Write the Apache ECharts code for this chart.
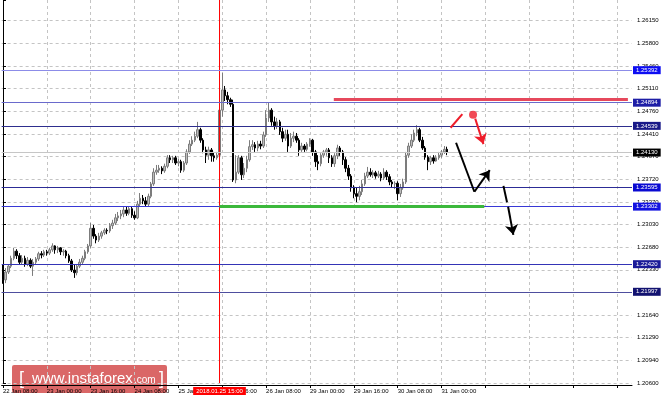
<!DOCTYPE html>
<html><head><meta charset="utf-8">
<script src="https://cdn.jsdelivr.net/npm/echarts@6/dist/echarts.min.js"></script>
<style>html,body{margin:0;padding:0;background:#fff}#c{width:664px;height:401px}</style>
</head><body><div id="c"></div>
<script>
// ---- data (H1 bars, 22 Jan 08:00 .. 31 Jan 02:00) ----
const opens = [1.2236,1.2218,1.2230,1.2239,1.2251,1.2262,1.2255,1.2245,1.2251,1.2242,
1.2248,1.2239,1.2245,1.2250,1.2258,1.2256,1.2261,1.2259,1.2264,1.2270,
1.2264,1.2267,1.2261,1.2262,1.2255,1.2247,1.2233,1.2229,1.2239,1.2245,
1.2251,1.2261,1.2270,1.2297,1.2285,1.2279,1.2285,1.2290,1.2294,1.2293,
1.2301,1.2305,1.2313,1.2316,1.2319,1.2325,1.2320,1.2327,1.2317,1.2313,
1.2334,1.2343,1.2339,1.2334,1.2346,1.2365,1.2383,1.2386,1.2389,1.2385,
1.2392,1.2405,1.2402,1.2405,1.2397,1.2399,1.2386,1.2397,1.2414,1.2426,
1.2432,1.2438,1.2448,1.2432,1.2417,1.2409,1.2417,1.2408,1.2405,1.2409,
1.2478,1.2509,1.2500,1.2494,1.2487,1.2371,1.2383,1.2405,1.2379,1.2389,
1.2402,1.2422,1.2425,1.2420,1.2426,1.2423,1.2440,1.2466,1.2478,1.2460,
1.2454,1.2460,1.2445,1.2435,1.2441,1.2423,1.2435,1.2438,1.2432,1.2417,
1.2423,1.2418,1.2426,1.2432,1.2414,1.2399,1.2396,1.2409,1.2414,1.2417,
1.2405,1.2396,1.2408,1.2420,1.2414,1.2402,1.2389,1.2377,1.2359,1.2350,
1.2346,1.2353,1.2365,1.2377,1.2383,1.2379,1.2382,1.2377,1.2380,1.2374,
1.2383,1.2376,1.2368,1.2365,1.2366,1.2350,1.2359,1.2368,1.2409,1.2423,
1.2432,1.2443,1.2448,1.2432,1.2420,1.2406,1.2399,1.2405,1.2400,1.2405,
1.2409,1.2414,1.2418];
const closes = [1.2218,1.2230,1.2239,1.2251,1.2262,1.2255,1.2245,1.2251,1.2242,1.2248,
1.2239,1.2245,1.2250,1.2258,1.2256,1.2261,1.2259,1.2264,1.2270,1.2264,
1.2267,1.2261,1.2262,1.2255,1.2247,1.2233,1.2229,1.2239,1.2245,1.2251,
1.2261,1.2270,1.2297,1.2285,1.2279,1.2285,1.2290,1.2294,1.2293,1.2301,
1.2305,1.2313,1.2316,1.2319,1.2325,1.2320,1.2327,1.2317,1.2313,1.2334,
1.2343,1.2339,1.2334,1.2346,1.2365,1.2383,1.2386,1.2389,1.2385,1.2392,
1.2405,1.2402,1.2405,1.2397,1.2399,1.2386,1.2397,1.2414,1.2426,1.2432,
1.2438,1.2448,1.2432,1.2417,1.2409,1.2417,1.2408,1.2405,1.2409,1.2478,
1.2509,1.2500,1.2494,1.2487,1.2371,1.2383,1.2405,1.2379,1.2389,1.2402,
1.2422,1.2425,1.2420,1.2426,1.2423,1.2440,1.2466,1.2478,1.2460,1.2454,
1.2460,1.2445,1.2435,1.2441,1.2423,1.2435,1.2438,1.2432,1.2417,1.2423,
1.2418,1.2426,1.2432,1.2414,1.2399,1.2396,1.2409,1.2414,1.2417,1.2405,
1.2396,1.2408,1.2420,1.2414,1.2402,1.2389,1.2377,1.2359,1.2350,1.2346,
1.2353,1.2365,1.2377,1.2383,1.2379,1.2382,1.2377,1.2380,1.2374,1.2383,
1.2376,1.2368,1.2365,1.2366,1.2350,1.2359,1.2368,1.2409,1.2423,1.2432,
1.2443,1.2448,1.2432,1.2420,1.2406,1.2399,1.2405,1.2400,1.2405,1.2409,
1.2414,1.2418,1.2413];
const lows = [1.2212,1.2213,1.2227,1.2236,1.2248,1.2250,1.2242,1.2241,1.2238,1.2239,
1.2236,1.2224,1.2242,1.2247,1.2251,1.2253,1.2255,1.2256,1.2261,1.2258,
1.2259,1.2256,1.2255,1.2251,1.2244,1.2230,1.2221,1.2225,1.2236,1.2242,
1.2248,1.2258,1.2267,1.2281,1.2274,1.2276,1.2281,1.2287,1.2288,1.2290,
1.2296,1.2302,1.2308,1.2311,1.2314,1.2316,1.2317,1.2313,1.2310,1.2311,
1.2331,1.2334,1.2330,1.2331,1.2343,1.2362,1.2379,1.2382,1.2380,1.2382,
1.2389,1.2397,1.2397,1.2394,1.2392,1.2382,1.2383,1.2394,1.2411,1.2423,
1.2429,1.2435,1.2428,1.2412,1.2397,1.2402,1.2399,1.2399,1.2402,1.2406,
1.2468,1.2492,1.2487,1.2483,1.2368,1.2366,1.2380,1.2371,1.2374,1.2383,
1.2399,1.2417,1.2414,1.2415,1.2418,1.2420,1.2437,1.2460,1.2454,1.2448,
1.2449,1.2440,1.2429,1.2431,1.2414,1.2420,1.2429,1.2428,1.2408,1.2414,
1.2414,1.2415,1.2422,1.2408,1.2391,1.2386,1.2392,1.2405,1.2408,1.2397,
1.2391,1.2391,1.2403,1.2408,1.2394,1.2383,1.2371,1.2353,1.2343,1.2337,
1.2340,1.2348,1.2362,1.2374,1.2376,1.2374,1.2373,1.2374,1.2369,1.2371,
1.2371,1.2363,1.2359,1.2357,1.2340,1.2345,1.2356,1.2365,1.2405,1.2420,
1.2429,1.2438,1.2429,1.2417,1.2402,1.2386,1.2394,1.2396,1.2399,1.2402,
1.2405,1.2411,1.2409];
const highs = [1.2241,1.2236,1.2242,1.2255,1.2267,1.2265,1.2259,1.2256,1.2255,1.2253,
1.2251,1.2250,1.2253,1.2261,1.2262,1.2264,1.2264,1.2267,1.2274,1.2271,
1.2270,1.2268,1.2265,1.2264,1.2258,1.2250,1.2242,1.2242,1.2250,1.2255,
1.2264,1.2273,1.2305,1.2302,1.2288,1.2290,1.2293,1.2297,1.2297,1.2305,
1.2310,1.2319,1.2322,1.2325,1.2330,1.2330,1.2331,1.2330,1.2323,1.2339,
1.2351,1.2348,1.2345,1.2350,1.2368,1.2389,1.2394,1.2394,1.2392,1.2396,
1.2409,1.2409,1.2408,1.2408,1.2403,1.2402,1.2400,1.2418,1.2432,1.2438,
1.2445,1.2460,1.2451,1.2435,1.2422,1.2422,1.2420,1.2414,1.2414,1.2483,
1.2535,1.2515,1.2506,1.2497,1.2494,1.2409,1.2409,1.2408,1.2397,1.2408,
1.2432,1.2432,1.2429,1.2431,1.2431,1.2445,1.2478,1.2490,1.2481,1.2468,
1.2466,1.2463,1.2451,1.2448,1.2448,1.2443,1.2445,1.2443,1.2435,1.2428,
1.2426,1.2429,1.2435,1.2434,1.2417,1.2409,1.2412,1.2417,1.2420,1.2420,
1.2409,1.2412,1.2425,1.2423,1.2417,1.2406,1.2394,1.2380,1.2363,1.2359,
1.2362,1.2371,1.2382,1.2391,1.2389,1.2386,1.2385,1.2385,1.2383,1.2389,
1.2386,1.2380,1.2371,1.2369,1.2369,1.2365,1.2373,1.2414,1.2428,1.2441,
1.2448,1.2455,1.2451,1.2437,1.2423,1.2409,1.2408,1.2409,1.2409,1.2414,
1.2417,1.2423,1.2422];

const slotCount = 230;   // hourly slots visible on the time axis
const priceMin = 1.206;
const priceMax = 1.26467;
const priceStep = 0.00346875;
const xTickLabels = ['22 Jan 08:00','23 Jan 00:00','23 Jan 16:00','24 Jan 08:00','25 Jan 00:00',
  '25 Jan 16:00','26 Jan 08:00','29 Jan 00:00','29 Jan 16:00','30 Jan 08:00','31 Jan 00:00'];
const yTickLabels = ['1.20600','1.20940','1.21290','1.21640','1.21980','1.22330','1.22680','1.23030',
  '1.23370','1.23720','1.24070','1.24410','1.24760','1.25110','1.25460','1.25800','1.26150'];
const levelValues = [1.25392, 1.24894, 1.24539, 1.24130, 1.23595, 1.23302, 1.22420, 1.21997];
const markerSlot = 79;            // 2018.01.25 15:00
const markerText = '2018.01.25 15:00';

// drawn annotations, in [bar slot, price]
const resistanceLine = [[120.7, 1.2495], [228.0, 1.2495]];
const supportLine = [[79.0, 1.2331], [175.6, 1.2331]];
const redStroke = [[163.3, 1.2451], [167.6, 1.2472]];
const redPoint = [171.5, 1.2471];
const redArrow = [[172.3, 1.2465], [175.3, 1.2426]];
const blackDrop = [[165.3, 1.2428], [172.0, 1.2353]];
const blackRise = [[172.0, 1.2353], [177.6, 1.2386]];
const blackDash = [[182.6, 1.2362], [183.9, 1.2337]];
const blackFall = [[184.3, 1.2330], [186.2, 1.2287]];

// ---- styles ----
const levelStyles = [
  {line:'#8c8ce8', bg:'#0d0df2'},
  {line:'#6a6acc', bg:'#1e1ea6'},
  {line:'#2e2e8e', bg:'#1a1a88'},
  {line:'#c6c6c6', bg:'#000000'},
  {line:'#2c2c96', bg:'#0a0ad2'},
  {line:'#3838d6', bg:'#1212e0'},
  {line:'#3434b6', bg:'#1a1a98'},
  {line:'#4e4e9e', bg:'#121270'}
];
const FONT = 'Liberation Sans, Arial, sans-serif';

const slots = Array.from({length: slotCount}, (_, i) => String(i));
const candles = opens.map((o, i) => [o, closes[i], lows[i], highs[i]]);
const xLo = -0.5, xHi = slotCount - 0.5;

function seg(pts, color, width, arrow, label) {
  const start = {coord: pts[0], symbol: 'none', lineStyle: {color: color, width: width, type: 'solid', opacity: 1}};
  if (label) start.label = label; else start.label = {show: false};
  return [start, {coord: pts[1], symbol: arrow ? 'arrow' : 'none', symbolSize: arrow ? 10 : 1}];
}

const levelSegs = levelValues.map((v, i) => seg([[xLo, v], [xHi, v]], levelStyles[i].line, 1, false, {
  show: true, position: 'end', distance: 1, formatter: v.toFixed(5),
  color: '#fff', backgroundColor: levelStyles[i].bg, padding: [1, 3, 1, 3],
  fontSize: 6, fontFamily: FONT
}));
// label of the time marker (its line itself is drawn by a line series below)
const markerSeg = seg([[markerSlot, priceMin], [markerSlot, priceMax]], 'rgba(255,0,0,0)', 1, false, {
  show: true, position: 'start', distance: 4, formatter: markerText,
  color: '#fff', backgroundColor: '#ff0000', padding: [1, 3, 1, 3],
  fontSize: 6, fontFamily: FONT
});

const chart = echarts.init(document.getElementById('c'), null, {renderer: 'canvas'});
chart.setOption({
  animation: false,
  backgroundColor: '#ffffff',
  grid: {left: 0, right: 32, top: 0, bottom: 18},
  xAxis: [{
    type: 'category', data: slots, boundaryGap: true, offset: 2,
    axisLine: {show: true, lineStyle: {color: '#000', width: 1}},
    axisTick: {show: true, interval: 15, alignWithLabel: true, length: 3, lineStyle: {color: '#000'}},
    axisLabel: {show: true, interval: 15, align: 'left', margin: 3, fontSize: 6, color: '#000',
      fontFamily: FONT, formatter: (v, i) => xTickLabels[i / 16] || ''},
    splitLine: {show: true, interval: 15, alignWithLabel: true,
      lineStyle: {color: '#c4c4c4', width: 1, type: [3, 3]}}
  }, {
    type: 'value', min: xLo, max: xHi, show: false
  }],
  yAxis: {
    type: 'value', position: 'right', min: priceMin, max: priceMax, interval: priceStep,
    axisLine: {show: true, lineStyle: {color: '#000', width: 1}},
    axisTick: {show: true, length: 3, lineStyle: {color: '#000'}},
    axisLabel: {margin: 5, fontSize: 6, color: '#000', fontFamily: FONT,
      formatter: (v, i) => yTickLabels[i] || ''},
    splitLine: {show: true, showMaxLine: false, lineStyle: {color: '#c4c4c4', width: 1, type: [3, 3]}}
  },
  series: [{
    type: 'candlestick',
    data: candles,
    barWidth: 2,
    itemStyle: {color: '#bdbdbd', color0: '#000000', borderColor: '#7c7c7c', borderColor0: '#000000', borderWidth: 1}
  }, {
    type: 'line',
    xAxisIndex: 1,
    data: [[markerSlot, priceMin], [markerSlot, priceMax]],
    symbol: 'none',
    silent: true,
    z: 4,
    lineStyle: {color: '#ff0000', width: 1, type: 'solid'}
  }, {
    type: 'scatter',
    xAxisIndex: 1,
    data: [redPoint],
    symbol: 'circle',
    symbolSize: 8,
    itemStyle: {color: '#ee1d2a'},
    silent: true,
    clip: false,
    z: 5,
    markLine: {
      silent: true, symbol: 'none', animation: false,
      data: levelSegs.concat([
        seg(resistanceLine, '#e6485c', 3, false),
        seg(supportLine, '#3cb83c', 3, false),
        seg(redStroke, '#ee1d2a', 2, false),
        seg(redArrow, '#ee1d2a', 2, true),
        seg(blackDrop, '#000000', 2, false),
        seg(blackRise, '#000000', 2, true),
        seg(blackDash, '#000000', 2, false),
        seg(blackFall, '#000000', 2, true),
        markerSeg
      ])
    }
  }],
  graphic: [{
    type: 'group', left: 12, top: 365, z: 50, silent: true,
    children: [
      {type: 'rect', shape: {x: 0, y: 0, width: 155, height: 28, r: 2}, style: {fill: 'rgba(204,44,44,0.72)'}},
      {type: 'text', x: 7, y: 14, style: {text: '[', fill: '#fff', font: '18px ' + FONT, verticalAlign: 'middle'}},
      {type: 'text', x: 20, y: 14, style: {text: 'www.instaforex', fill: '#fff', font: '15px ' + FONT, verticalAlign: 'middle'}},
      {type: 'text', x: 122, y: 15, style: {text: '.com', fill: '#fff', font: '10px ' + FONT, verticalAlign: 'middle'}},
      {type: 'text', x: 147, y: 14, style: {text: ']', fill: '#fff', font: '18px ' + FONT, verticalAlign: 'middle'}}
    ]
  }]
});
</script>
</body></html>
